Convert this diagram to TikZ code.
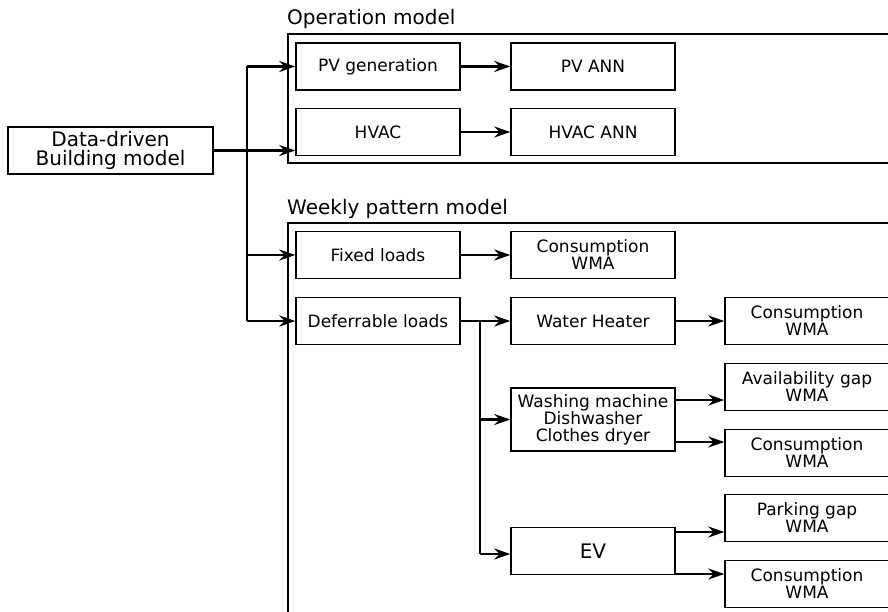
\documentclass[tikz,border=0pt]{standalone}
\usepackage{fontspec}
\setmainfont{DejaVu Sans}
\usetikzlibrary{arrows.meta}

\tikzset{
  box/.style={draw, line width=1.5pt, minimum width=164pt, minimum height=47pt,
              inner sep=0pt, align=center, font=\fontsize{17}{17}\selectfont},
  bigbox/.style={box, font=\fontsize{20}{19}\selectfont},
  frame/.style={draw, line width=1.5pt},
  title/.style={anchor=base west, inner sep=0pt, font=\fontsize{20}{20}\selectfont},
  wire/.style={line width=2.4pt},
  conn/.style={wire, -{Stealth[length=16pt, width=11pt, inset=5.5pt]}},
}

\begin{document}
\begin{tikzpicture}[x=1pt, y=-1pt]
  \useasboundingbox (0,0) rectangle (888,612);
  \clip (0,0) rectangle (888,612);

  % group frames and their headings
  \draw[frame] (288,34) rectangle (900,163);
  \draw[frame] (288,223) rectangle (900,630);
  \node[title] (optitle) at (287,25) {Operation model};
  \node[title] (wktitle) at (287,215) {Weekly pattern model};

  % source model
  \node[bigbox, minimum width=205pt] (src) at (110.5,150.5) {Data-driven\\Building model};

  % operation model
  \node[box] (pvg)     at (378,66.5) {PV generation};
  \node[box] (pvann)   at (593,66.5) {PV ANN};
  \node[box] (hvac)    at (378,132)  {HVAC};
  \node[box] (hvacann) at (593,132)  {HVAC ANN};

  % weekly pattern model
  \node[box] (fixed) at (378,255) {Fixed loads};
  \node[box] (cwma1) at (593,255) {Consumption\\WMA};
  \node[box] (defer) at (378,321) {Deferrable loads};
  \node[box] (wh)    at (593,321) {Water Heater};
  \node[box] (cwma2) at (807,321) {Consumption\\WMA};
  \node[box, minimum height=63pt] (wash) at (593,419.5) {Washing machine\\Dishwasher\\Clothes dryer};
  \node[box] (avail) at (807,387) {Availability gap\\WMA};
  \node[box] (cwma3) at (807,453) {Consumption\\WMA};
  \node[bigbox] (ev)  at (593,551) {EV};
  \node[box] (park)  at (807,518) {Parking gap\\WMA};
  \node[box] (cwma4) at (807,584) {Consumption\\WMA};

  % distribution bus from the source model
  \coordinate (bus) at (247,0);
  \draw[conn] (src.east) -- (src.east -| hvac.west);
  \draw[wire] (bus |- pvg.west) -- (bus |- defer.west);
  \draw[conn] (bus |- pvg.west) -- (pvg.west);
  \draw[conn] (bus |- fixed.west) -- (fixed.west);
  \draw[conn] (bus |- defer.west) -- (defer.west);

  % operation model links
  \draw[conn] (pvg.east) -- (pvann.west);
  \draw[conn] (hvac.east) -- (hvacann.west);

  % weekly pattern model links
  \draw[conn] (fixed.east) -- (cwma1.west);
  \draw[conn] (defer.east) -- (wh.west);
  \draw[conn] (wh.east) -- (cwma2.west);

  \coordinate (bus2) at (480,0);
  \draw[wire] (bus2 |- defer.east) -- ([yshift=-3pt]bus2 |- ev.west);
  \draw[conn] (bus2 |- wash.west) -- (wash.west);
  \draw[conn] ([yshift=-3pt]bus2 |- ev.west) -- ([yshift=-3pt]ev.west);

  \coordinate (wa) at ([yshift=19.5pt]wash.east);
  \coordinate (wb) at ([yshift=-22.5pt]wash.east);
  \draw[conn] (wa) -- (wa -| avail.west);
  \draw[conn] (wb) -- (wb -| cwma3.west);

  \coordinate (ea) at ([yshift=19pt]ev.east);
  \coordinate (eb) at ([yshift=-23pt]ev.east);
  \draw[conn] (ea) -- (ea -| park.west);
  \draw[conn] (eb) -- (eb -| cwma4.west);
\end{tikzpicture}
\end{document}
